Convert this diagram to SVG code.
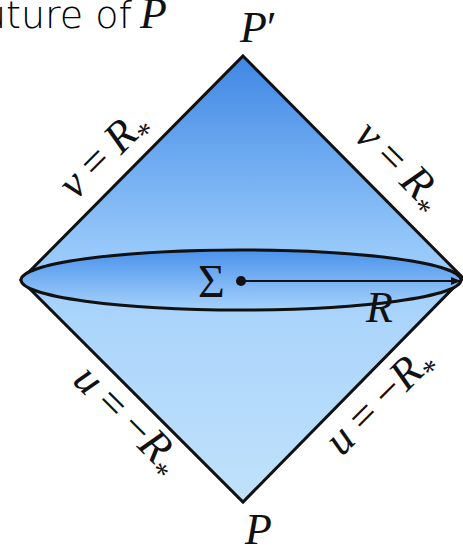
<svg xmlns="http://www.w3.org/2000/svg" width="463" height="550" viewBox="0 0 463 550">
<defs>
<linearGradient id="gd" x1="0" y1="56" x2="0" y2="502" gradientUnits="userSpaceOnUse">
<stop offset="0" stop-color="#3f87e4"/>
<stop offset="0.42" stop-color="#94c7fa"/>
<stop offset="0.6" stop-color="#acd5fb"/>
<stop offset="1" stop-color="#c0e2fb"/>
</linearGradient>
<linearGradient id="ge" x1="0" y1="250" x2="0" y2="310" gradientUnits="userSpaceOnUse">
<stop offset="0" stop-color="#4a92ec"/>
<stop offset="1" stop-color="#a6d2fb"/>
</linearGradient>
<marker id="ah" viewBox="0 0 10 8" refX="10" refY="4" markerWidth="10" markerHeight="8" markerUnits="userSpaceOnUse" orient="auto">
<path d="M0,0 L10,4 L0,8 Z" fill="#111"/>
</marker>
<style>
.m{font-family:'Liberation Serif',serif;fill:#111;}
.i{font-style:italic;}
.lab{font-size:44px;}
.sub{font-size:30px;font-style:normal;}
.top{font-family:'DejaVu Sans','Liberation Sans',sans-serif;font-weight:200;font-size:38px;fill:#000;}
</style>
</defs>
<text class="top" x="-18" y="28">uture of </text>
<text class="m i" x="140" y="28" font-size="44">P</text>
<g id="region">
<polygon points="243,56 463,278 243,502 21,280" fill="url(#gd)" stroke="#111" stroke-width="3" stroke-linejoin="miter"/>
</g>
<g id="sigma">
<ellipse cx="241" cy="280" rx="220" ry="30" fill="url(#ge)" stroke="#111" stroke-width="3"/>
<text class="m" x="198" y="297" font-size="46">Σ</text>
</g>
<g id="connectors">
<line x1="241" y1="281" x2="461" y2="281" stroke="#111" stroke-width="2" marker-end="url(#ah)"/>
<circle cx="241" cy="281" r="5" fill="#111"/>
</g>
<g id="labels">
<text class="m i" x="240" y="42" font-size="44">P<tspan font-style="normal">′</tspan></text>
<text class="m i" x="245" y="544" font-size="44">P</text>
<text class="m i" x="366" y="322" font-size="44">R</text>
<g transform="translate(113,163.5) rotate(-45)">
<text class="m lab" x="0" y="0" text-anchor="middle"><tspan class="i">v</tspan><tspan dx="10">=</tspan><tspan class="i" dx="10">R</tspan><tspan class="sub" dy="12">*</tspan></text>
</g>
<g transform="translate(390,175) rotate(45)">
<text class="m lab" x="0" y="0" text-anchor="middle"><tspan class="i">v</tspan><tspan dx="10">=</tspan><tspan class="i" dx="10">R</tspan><tspan class="sub" dy="12">*</tspan></text>
</g>
<g transform="translate(118.5,429) rotate(45)">
<text class="m lab" x="0" y="0" text-anchor="middle"><tspan class="i">u</tspan><tspan dx="10">=</tspan><tspan dx="10">−</tspan><tspan class="i">R</tspan><tspan class="sub" dy="12">*</tspan></text>
</g>
<g transform="translate(389,410) rotate(-45)">
<text class="m lab" x="0" y="0" text-anchor="middle"><tspan class="i">u</tspan><tspan dx="10">=</tspan><tspan dx="10">−</tspan><tspan class="i">R</tspan><tspan class="sub" dy="12">*</tspan></text>
</g>
</g>
</svg>
